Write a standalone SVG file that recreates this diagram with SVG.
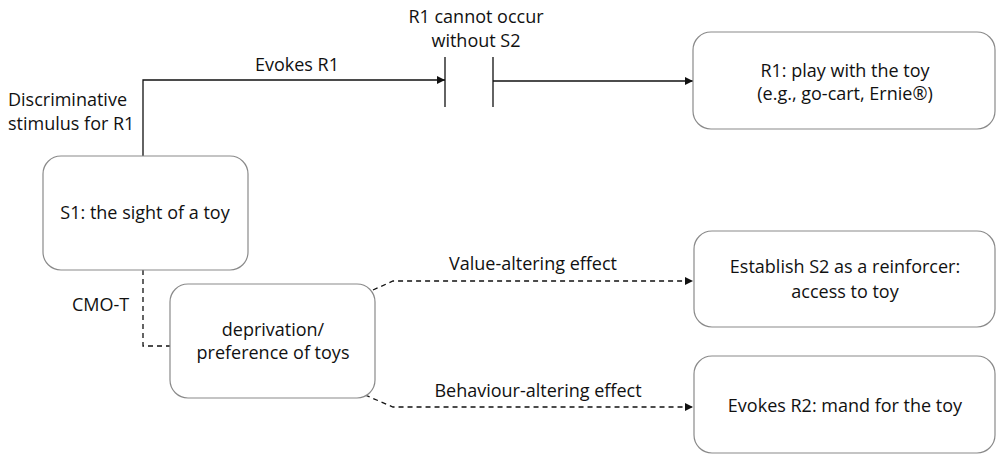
<svg xmlns="http://www.w3.org/2000/svg" width="996" height="456" viewBox="0 0 996 456">
<defs>
<marker id="arr" viewBox="0 0 10 10" refX="10" refY="5" markerWidth="8" markerHeight="8" markerUnits="userSpaceOnUse" orient="auto">
<path d="M0,0 L10,5 L0,10 z" fill="#111"/>
</marker>
</defs>
<style>
.box{fill:#fff;stroke:#8a8a8a;stroke-width:1.2}
.t{font-family:"Open Sans","Noto Sans",sans-serif;font-size:18px;fill:#111}
.m{text-anchor:middle}
.ln{fill:none;stroke:#111;stroke-width:1.3}
.dl{fill:none;stroke:#111;stroke-width:1.3;stroke-dasharray:5 4}
</style>
<rect width="996" height="456" fill="#fff"/>
<g id="connectors">
<path class="ln" d="M143,156 V80 H445" marker-end="url(#arr)"/>
<path class="ln" d="M445,57 V107 M493,57 V107"/>
<path class="ln" d="M493,81 H693" marker-end="url(#arr)"/>
<path class="dl" d="M143,270 V346 H170"/>
<path class="dl" d="M373,290 L393,281 H693" marker-end="url(#arr)"/>
<path class="dl" d="M365,395 L393,407 H693" marker-end="url(#arr)"/>
<text class="t m" x="297" y="71">Evokes R1</text>
<text class="t m" x="476" y="23">R1 cannot occur</text>
<text class="t m" x="476" y="47">without S2</text>
<text class="t" x="8" y="106">Discriminative</text>
<text class="t" x="8" y="130">stimulus for R1</text>
<text class="t" x="72" y="311">CMO-T</text>
<text class="t m" x="533" y="270">Value-altering effect</text>
<text class="t m" x="538" y="397">Behaviour-altering effect</text>
</g>
<g id="s1">
<rect class="box" x="43" y="156" width="205" height="114" rx="18"/>
<text class="t m" x="145" y="219">S1: the sight of a toy</text>
</g>
<g id="dep">
<rect class="box" x="170" y="284" width="205" height="114" rx="18"/>
<text class="t m" x="273" y="336">deprivation/</text>
<text class="t m" x="273" y="359">preference of toys</text>
</g>
<g id="r1">
<rect class="box" x="693" y="32" width="302" height="97" rx="18"/>
<text class="t m" x="845" y="77">R1: play with the toy</text>
<text class="t m" x="845" y="100">(e.g., go-cart, Ernie®)</text>
</g>
<g id="s2">
<rect class="box" x="694" y="231" width="301" height="96" rx="18"/>
<text class="t m" x="845" y="273">Establish S2 as a reinforcer:</text>
<text class="t m" x="845" y="298">access to toy</text>
</g>
<g id="r2">
<rect class="box" x="694" y="356" width="301" height="97" rx="18"/>
<text class="t m" x="845" y="412">Evokes R2: mand for the toy</text>
</g>
</svg>
